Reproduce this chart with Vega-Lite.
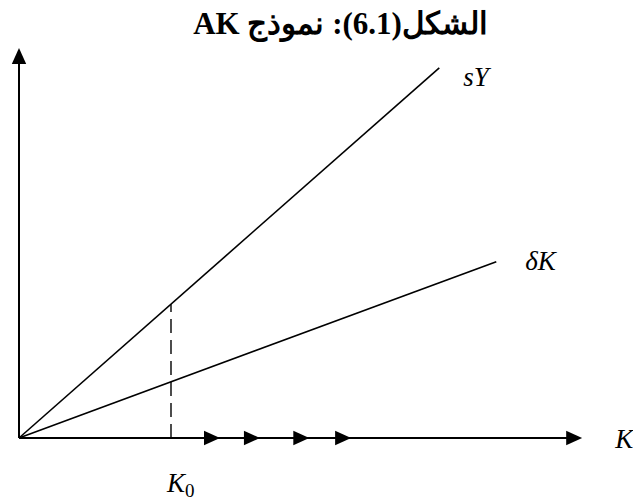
{
  "$schema": "https://vega.github.io/schema/vega-lite/v6.json",
  "width": 633,
  "height": 502,
  "padding": 0,
  "autosize": {"type": "none"},
  "background": "white",
  "title": {
    "text": "\u202bالشكل(6.1): نموذج AK\u202c",
    "font": "Liberation Serif",
    "fontSize": 31,
    "fontWeight": "bold",
    "color": "black",
    "anchor": "middle",
    "baseline": "alphabetic",
    "dx": 24,
    "offset": -65
  },
  "config": {"view": {"stroke": null}},
  "datasets": {
    "curves": [
      {"series": "sY", "K": 0, "Y": 0},
      {"series": "sY", "K": 5.53, "Y": 4.87},
      {"series": "dK", "K": 0, "Y": 0},
      {"series": "dK", "K": 6.28, "Y": 2.32}
    ],
    "axes": [
      {"axis": "K", "K": 0, "Y": 0},
      {"axis": "K", "K": 7.3, "Y": 0},
      {"axis": "Y", "K": 0, "Y": 0},
      {"axis": "Y", "K": 0, "Y": 5.05}
    ],
    "guide": [
      {"K": 2, "Y": 0},
      {"K": 2, "Y": 1.76}
    ],
    "heads": [
      {"dir": "right", "K": 7.41, "Y": 0},
      {"dir": "up", "K": 0, "Y": 5.13}
    ],
    "moves": [
      {"K": 2.645, "Y": 0},
      {"K": 3.17, "Y": 0},
      {"K": 3.82, "Y": 0},
      {"K": 4.37, "Y": 0}
    ],
    "labels": [
      {"name": "sY", "text": "sY", "K": 5.53, "Y": 4.87},
      {"name": "dK", "text": "δK", "K": 6.28, "Y": 2.32},
      {"name": "K", "text": "K", "K": 7.41, "Y": 0},
      {"name": "K0", "text": "K", "K": 2, "Y": 0},
      {"name": "K0sub", "text": "0", "K": 2, "Y": 0}
    ]
  },
  "encoding": {
    "x": {"field": "K", "type": "quantitative", "axis": null,
          "scale": {"domain": [-0.25, 8.079], "nice": false, "zero": false}},
    "y": {"field": "Y", "type": "quantitative", "axis": null,
          "scale": {"domain": [-0.842, 5.763], "nice": false, "zero": false}}
  },
  "layer": [
    {
      "data": {"name": "axes"},
      "mark": {"type": "line", "color": "black", "strokeWidth": 2},
      "encoding": {"detail": {"field": "axis"}}
    },
    {
      "data": {"name": "curves"},
      "mark": {"type": "line", "color": "black", "strokeWidth": 1.6},
      "encoding": {"detail": {"field": "series"}}
    },
    {
      "data": {"name": "guide"},
      "mark": {"type": "line", "color": "black", "strokeWidth": 1.4, "strokeDash": [14, 7]},
      "encoding": {}
    },
    {
      "data": {"name": "heads"},
      "transform": [{"filter": "datum.dir === 'right'"}],
      "mark": {"type": "point", "shape": "M-2,-0.9L0,0L-2,0.9Z", "filled": true, "color": "black", "opacity": 1, "size": 256, "strokeWidth": 0}
    },
    {
      "data": {"name": "heads"},
      "transform": [{"filter": "datum.dir === 'up'"}],
      "mark": {"type": "point", "shape": "M-0.9,2L0,0L0.9,2Z", "filled": true, "color": "black", "opacity": 1, "size": 256, "strokeWidth": 0}
    },
    {
      "data": {"name": "moves"},
      "mark": {"type": "point", "shape": "M-2,-0.9L0,0L-2,0.9Z", "filled": true, "color": "black", "opacity": 1, "size": 256, "strokeWidth": 0}
    },
    {
      "data": {"name": "labels"},
      "transform": [{"filter": "datum.name === 'sY'"}],
      "mark": {"type": "text", "font": "Liberation Serif", "fontStyle": "italic", "fontSize": 27, "align": "left", "baseline": "middle", "dx": 24, "dy": 10, "color": "black"},
      "encoding": {"text": {"field": "text"}}
    },
    {
      "data": {"name": "labels"},
      "transform": [{"filter": "datum.name === 'dK'"}],
      "mark": {"type": "text", "font": "Liberation Serif", "fontStyle": "italic", "fontSize": 27, "align": "left", "baseline": "middle", "dx": 29, "dy": 0, "color": "black"},
      "encoding": {"text": {"field": "text"}}
    },
    {
      "data": {"name": "labels"},
      "transform": [{"filter": "datum.name === 'K'"}],
      "mark": {"type": "text", "font": "Liberation Serif", "fontStyle": "italic", "fontSize": 27, "align": "left", "baseline": "middle", "dx": 33, "dy": 2, "color": "black"},
      "encoding": {"text": {"field": "text"}}
    },
    {
      "data": {"name": "labels"},
      "transform": [{"filter": "datum.name === 'K0'"}],
      "mark": {"type": "text", "font": "Liberation Serif", "fontStyle": "italic", "fontSize": 27, "align": "left", "baseline": "alphabetic", "dx": -4, "dy": 54, "color": "black"},
      "encoding": {"text": {"field": "text"}}
    },
    {
      "data": {"name": "labels"},
      "transform": [{"filter": "datum.name === 'K0sub'"}],
      "mark": {"type": "text", "font": "Liberation Serif", "fontSize": 19, "align": "left", "baseline": "alphabetic", "dx": 14, "dy": 59, "color": "black"},
      "encoding": {"text": {"field": "text"}}
    }
  ]
}
